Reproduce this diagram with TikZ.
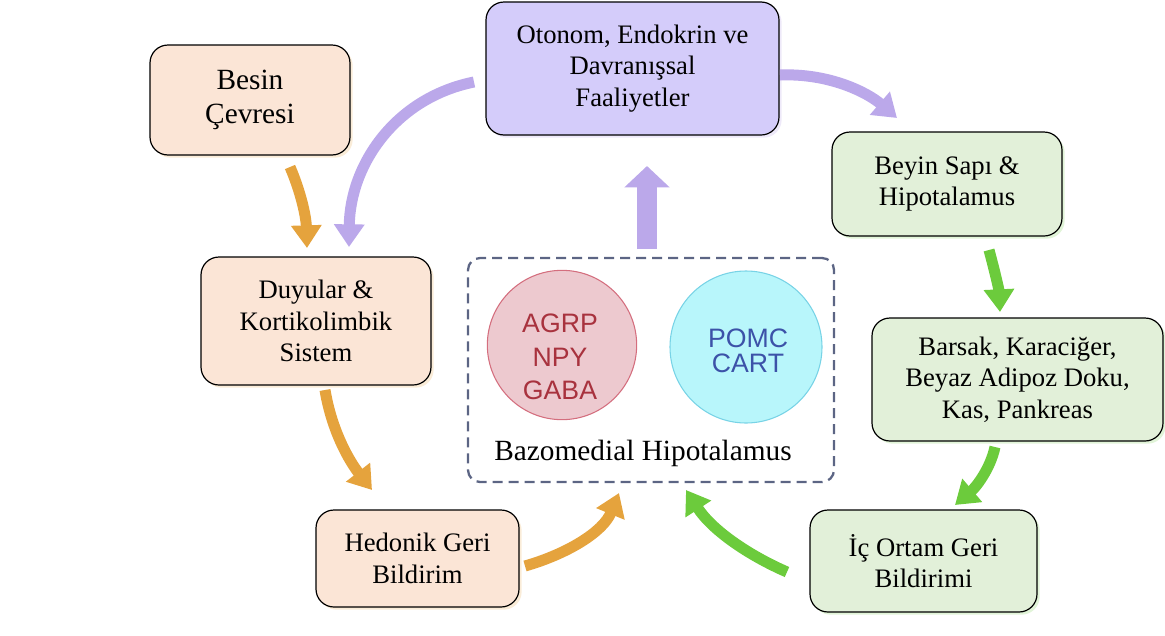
\documentclass[tikz,border=0pt]{standalone}
\usepackage{fontspec}
\setmainfont{Liberation Serif}
\newfontfamily\sansf{Liberation Sans}
\usetikzlibrary{arrows.meta,shadows}
\definecolor{peach}{HTML}{FBE5D6}
\definecolor{lav}{HTML}{D4CCFA}
\definecolor{lgreen}{HTML}{E2F0D9}
\definecolor{aorange}{HTML}{E5A33D}
\definecolor{alav}{HTML}{BBA8EA}
\definecolor{agreen}{HTML}{6CCB3C}
\definecolor{dashc}{HTML}{5C6584}
\definecolor{redfill}{HTML}{EDC9CF}
\definecolor{redline}{HTML}{D46E7E}
\definecolor{redtext}{HTML}{A8323E}
\definecolor{cyanfill}{HTML}{B8F6FB}
\definecolor{cyanline}{HTML}{78D3E6}
\definecolor{bluetext}{HTML}{3C52A8}
\tikzset{
  box/.style={draw=black, line width=0.9pt, rounded corners=13.5pt, align=center,
    inner sep=0pt, font=\fontsize{20}{23.5}\selectfont},
  pbox/.style={box, fill=peach, drop shadow={shadow xshift=2pt, shadow yshift=-2pt, fill=aorange!40, opacity=0.5}},
  gbox/.style={box, fill=lgreen, drop shadow={shadow xshift=2pt, shadow yshift=-2pt, fill=agreen!40, opacity=0.5}},
  vbox/.style={box, fill=lav, drop shadow={shadow xshift=2pt, shadow yshift=-2pt, fill=alav!50, opacity=0.5}},
  curvarrow/.style={line width=8.25pt, -{Triangle[width=22pt,length=17pt]}},
  cell/.style={circle, inner sep=0pt, line width=0.8pt, align=center}
}
\begin{document}
\begin{tikzpicture}[x=0.75pt,y=-0.75pt]
\path[use as bounding box] (0,0) rectangle (1165,636);

% boxes
\node[pbox, minimum width=150pt, minimum height=82.5pt, font=\fontsize{22}{25}\selectfont] (besin) at (250,100) {Besin\\Çevresi};
\node[vbox, minimum width=219.75pt, minimum height=99.75pt] (oto) at (632.5,68.5) {Otonom, Endokrin ve\\Davranışsal\\Faaliyetler};
\node[gbox, minimum width=172.5pt, minimum height=78pt] (beyin) at (947,184) {Beyin Sapı \&\\Hipotalamus};
\node[pbox, minimum width=172.5pt, minimum height=96pt] (duy) at (316,321) {Duyular \&\\Kortikolimbik\\Sistem};
\node[gbox, minimum width=218.25pt, minimum height=92.25pt] (bar) at (1017.5,379.5) {Barsak, Karaciğer,\\Beyaz Adipoz Doku,\\Kas, Pankreas};
\node[pbox, minimum width=152.25pt, minimum height=72.75pt] (hed) at (417.5,558.5) {Hedonik Geri\\Bildirim};
\node[gbox, minimum width=170.25pt, minimum height=76.5pt] (ic) at (923.5,561) {İç Ortam Geri\\Bildirimi};

% dashed hypothalamus box
\node[draw=dashc, line width=1.7pt, dash pattern=on 7.5pt off 4.5pt, rounded corners=9pt,
  minimum width=274.5pt, minimum height=168pt, inner sep=0pt] (bmh) at (651,370) {};
\node[cell, fill=redfill, draw=redline, minimum size=112pt] (agrp) at (562,345) {};
\node[font=\sansf\fontsize{20}{25}\selectfont, text=redtext, align=center] (agrpt) at (560,357) {AGRP\\NPY\\GABA};
\node[cell, fill=cyanfill, draw=cyanline, minimum size=114pt] (pomc) at (746,347) {};
\node[font=\sansf\fontsize{20}{19}\selectfont, text=bluetext, align=center] (pomct) at (748,351) {POMC\\CART};
\node[font=\fontsize{22}{25}\selectfont] (bmht) at (643,453) {Bazomedial Hipotalamus};

% arrow end points
\coordinate (o1s) at (290,167);  \coordinate (o1e) at (307,248);
\coordinate (l1s) at (474,82);   \coordinate (l1e) at (349,247);
\coordinate (l2s) at (780,75);   \coordinate (l2e) at (897,118);
\coordinate (ups) at (647,249);  \coordinate (upe) at (647,166);
\coordinate (g1s) at (989,250);  \coordinate (g1e) at (1000,312);
\coordinate (g2s) at (995,447);  \coordinate (g2e) at (955,505);
\coordinate (g3s) at (787,572);  \coordinate (g3e) at (686,490);
\coordinate (o2s) at (325,390);  \coordinate (o2e) at (372,490);
\coordinate (o3s) at (525,566);  \coordinate (o3e) at (619,493);

% arrows
\draw[curvarrow, aorange] (o1s) .. controls (300,190) and (306,215) .. (o1e);
\draw[curvarrow, alav] (l1s) .. controls (395,98) and (350,165) .. (l1e);
\draw[curvarrow, alav] (l2s) .. controls (830,73) and (868,93) .. (l2e);
\draw[alav, line width=15pt, -{Triangle[width=33pt,length=16pt]}] (ups) -- (upe);
\draw[curvarrow, agreen] (g1s) .. controls (995,272) and (999,290) .. (g1e);
\draw[curvarrow, agreen] (g2s) .. controls (990,470) and (975,488) .. (g2e);
\draw[curvarrow, agreen] (g3s) .. controls (748,555) and (712,530) .. (g3e);
\draw[curvarrow, aorange] (o2s) .. controls (332,432) and (350,462) .. (o2e);
\draw[curvarrow, aorange] (o3s) .. controls (567,554) and (603,532) .. (o3e);
\end{tikzpicture}
\end{document}
